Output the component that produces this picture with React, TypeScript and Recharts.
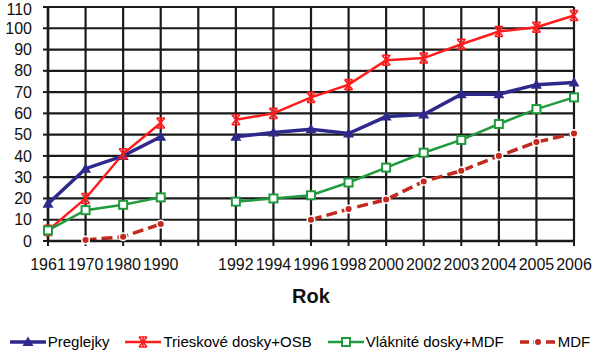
import { LineChart, Line, XAxis, YAxis, CartesianGrid, Legend } from 'recharts'

const years = ['1961', '1970', '1980', '1990', '', '1992', '1994', '1996', '1998', '2000', '2002', '2003', '2004', '2005', '2006']
const preglejky = [17.5, 34, 40, 49, null, 49, 51, 52.5, 50.5, 58.5, 59.5, 69, 69, 73.5, 74.5]
const trieskove = [5, 20, 41, 55.5, null, 57, 60, 67.5, 73.5, 85, 86, 92.5, 98.5, 100.5, 106]
const vlaknite = [5, 14.5, 17, 20.5, null, 18.5, 20, 21.5, 27.5, 34.5, 41.5, 47.5, 55, 62, 67.5]
const mdf = [null, 0.5, 2, 8, null, null, null, 10, 15, 19.5, 28, 33, 40, 46.5, 50.5]
const yTicks = [0, 10, 20, 30, 40, 50, 60, 70, 80, 90, 100, 110]

const data = years.map((year, i) => ({
  year,
  preglejky: preglejky[i],
  trieskove: trieskove[i],
  vlaknite: vlaknite[i],
  mdf: mdf[i],
}))

const FONT = '"Liberation Sans", Arial, sans-serif'
const BLUE = '#2E2A8C'
const RED = '#FF1C1C'
const GREEN = '#1F9A3C'
const DARKRED = '#C22A1E'

function marker(kind: string, cx: number, cy: number, key?: string) {
  if (kind === 'tri') {
    return <path key={key} d={`M${cx},${cy - 5.5} L${cx + 5.5},${cy + 4} L${cx - 5.5},${cy + 4} Z`} fill={BLUE} />
  }
  if (kind === 'star') {
    return (
      <g key={key} stroke={RED} strokeWidth={1.6} fill="none">
        <path d={`M${cx - 4},${cy - 5} L${cx + 4},${cy + 5} M${cx + 4},${cy - 5} L${cx - 4},${cy + 5}`} />
        <path d={`M${cx},${cy - 5} L${cx},${cy + 5}`} />
        <path d={`M${cx - 4},${cy - 5} L${cx + 4},${cy - 5} M${cx - 4},${cy + 5} L${cx + 4},${cy + 5}`} />
      </g>
    )
  }
  if (kind === 'sq') {
    return <rect key={key} x={cx - 4} y={cy - 4} width={8} height={8} fill="#fff" stroke={GREEN} strokeWidth={2} />
  }
  return <circle key={key} cx={cx} cy={cy} r={3.8} fill={DARKRED} stroke="#fff" strokeWidth={1.5} />
}

const makeDot = (kind: string) => (props: any) => {
  const { cx, cy, index } = props
  const key = `${kind}-${index}`
  if (cx == null || cy == null || props.value == null) return <g key={key} />
  return marker(kind, cx, cy, key)
}

// y tick: keep the top label inside the picture
const YTick = (props: any) => {
  const { x, y, payload } = props
  const ty = Math.max(y, 9.5)
  return (
    <text x={x} y={ty} dy="0.355em" textAnchor="end" fontSize={16} fill="#111" fontFamily={FONT}>
      {payload.value}
    </text>
  )
}

const series = [
  { key: 'preglejky', name: 'Preglejky', color: BLUE, width: 3.5, kind: 'tri', dash: undefined },
  { key: 'trieskove', name: 'Trieskové dosky+OSB', color: RED, width: 2.5, kind: 'star', dash: undefined },
  { key: 'vlaknite', name: 'Vláknité dosky+MDF', color: GREEN, width: 2.5, kind: 'sq', dash: undefined },
  { key: 'mdf', name: 'MDF', color: DARKRED, width: 3.5, kind: 'dot', dash: '11 5' },
]

function LegendContent() {
  return (
    <div style={{ display: 'flex', justifyContent: 'center', gap: 16, fontFamily: FONT, fontSize: 15, color: '#000' }}>
      {series.map((s) => (
        <div key={s.key} style={{ display: 'flex', alignItems: 'center' }}>
          <svg width={36} height={14} style={{ marginRight: 2 }}>
            <line x1={0} y1={7} x2={36} y2={7} stroke={s.color} strokeWidth={s.width} strokeDasharray={s.dash ? '9 4' : undefined} />
            {marker(s.kind, 18, 7)}
          </svg>
          <span>{s.name}</span>
        </div>
      ))}
    </div>
  )
}

export default function App() {
  return (
    <div style={{ position: 'absolute', left: 0, top: 0, background: '#fff' }}>
      <LineChart width={600} height={359} data={data} margin={{ top: 7, right: 26, left: 0, bottom: 56 }}>
        <CartesianGrid stroke="#1a1a1a" strokeWidth={2.2} />
        <XAxis
          dataKey="year"
          interval={0}
          tick={{ fontSize: 16, fill: '#111', fontFamily: FONT }}
          tickSize={5}
          tickMargin={13}
          tickLine={{ stroke: '#1a1a1a', strokeWidth: 2 }}
          axisLine={{ stroke: '#1a1a1a', strokeWidth: 2.5 }}
          height={62}
          label={{ value: 'Rok', position: 'insideBottom', offset: 0, fontSize: 20, fontWeight: 'bold', fill: '#111', fontFamily: FONT }}
        />
        <YAxis
          domain={[0, 110]}
          ticks={yTicks}
          interval={0}
          width={48}
          tick={<YTick />}
          tickSize={5}
          tickMargin={11}
          tickLine={{ stroke: '#1a1a1a', strokeWidth: 2 }}
          axisLine={{ stroke: '#1a1a1a', strokeWidth: 2.5 }}
        />
        <Legend
          layout="horizontal"
          verticalAlign="middle"
          align="center"
          content={<LegendContent />}
          wrapperStyle={{ top: 333, left: 0, width: 600 }}
        />
        {series.map((s) => (
          <Line
            key={s.key}
            dataKey={s.key}
            name={s.name}
            type="linear"
            stroke={s.color}
            strokeWidth={s.width}
            strokeDasharray={s.dash}
            dot={makeDot(s.kind)}
            activeDot={false}
            isAnimationActive={false}
          />
        ))}
      </LineChart>
    </div>
  )
}
